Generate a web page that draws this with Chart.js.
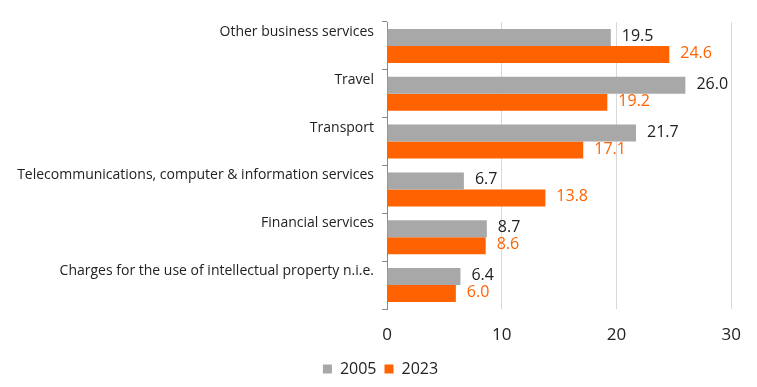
<!DOCTYPE html>
<html>
<head>
<meta charset="utf-8">
<script src="https://cdn.jsdelivr.net/npm/chart.js@4/dist/chart.umd.min.js"></script>
<style>
  html, body { margin: 0; padding: 0; background: #fff; }
  #wrap { width: 757px; height: 387px; }
</style>
</head>
<body>
<div id="wrap"><canvas id="chart"></canvas></div>
<script>
const categories = [
  'Other business services',
  'Travel',
  'Transport',
  'Telecommunications, computer & information services',
  'Financial services',
  'Charges for the use of intellectual property n.i.e.'
]
const values2005 = [19.5, 26.0, 21.7, 6.7, 8.7, 6.4]
const values2023 = [24.6, 19.2, 17.1, 13.8, 8.6, 6.0]
const xTicks = [0, 10, 20, 30]

const FONT = "'Open Sans', 'Noto Sans', sans-serif"

// value labels drawn at the end of each bar
const barLabels = {
  id: 'barLabels',
  afterDatasetsDraw(chart) {
    const ctx = chart.ctx
    ctx.save()
    ctx.font = '16px ' + FONT
    ctx.textBaseline = 'middle'
    ctx.textAlign = 'left'
    chart.data.datasets.forEach((ds, i) => {
      const meta = chart.getDatasetMeta(i)
      ctx.fillStyle = ds.labelColor
      meta.data.forEach((bar, j) => {
        ctx.fillText(ds.data[j].toFixed(1), bar.x + 11, bar.y - 1)
      })
    })
    ctx.restore()
  }
}

// nudge the legend so it sits centred under the whole page, not the padded box
const legendShift = {
  id: 'legendShift',
  afterLayout(chart) {
    chart.legend.left += 14
    chart.legend.right += 14
  }
}

new Chart(document.getElementById('chart'), {
  type: 'bar',
  data: {
    labels: categories,
    datasets: [
      {
        label: '2005',
        data: values2005,
        backgroundColor: '#A8A8A8',
        labelColor: '#222222',
        barPercentage: 1,
        categoryPercentage: 0.71
      },
      {
        label: '2023',
        data: values2023,
        backgroundColor: '#FF6200',
        labelColor: '#FF6200',
        barPercentage: 1,
        categoryPercentage: 0.71
      }
    ]
  },
  options: {
    indexAxis: 'y',
    responsive: true,
    maintainAspectRatio: false,
    animation: false,
    layout: { padding: { top: 22, right: 24, left: 0, bottom: 0 } },
    plugins: {
      legend: {
        position: 'bottom',
        labels: {
          boxWidth: 9,
          boxHeight: 9,
          color: '#222',
          font: { size: 16, family: FONT },
          padding: 8
        }
      },
      tooltip: { enabled: false }
    },
    scales: {
      x: {
        min: 0,
        max: 30,
        afterBuildTicks: (scale) => { scale.ticks = xTicks.map(v => ({ value: v })) },
        afterFit: (scale) => { scale.height = 44 },
        grid: { color: '#D9D9D9', drawTicks: false },
        border: { display: false },
        ticks: {
          color: '#222',
          font: { size: 17, family: FONT },
          padding: 16
        }
      },
      y: {
        afterFit: (scale) => { scale.width = 387 },
        grid: {
          drawOnChartArea: false,
          color: '#888',
          tickLength: 5,
          offset: true
        },
        border: { color: '#888' },
        ticks: {
          color: '#222',
          font: { size: 14, family: FONT },
          labelOffset: -14,
          padding: 8
        }
      }
    }
  },
  plugins: [barLabels, legendShift]
})
</script>
</body>
</html>
